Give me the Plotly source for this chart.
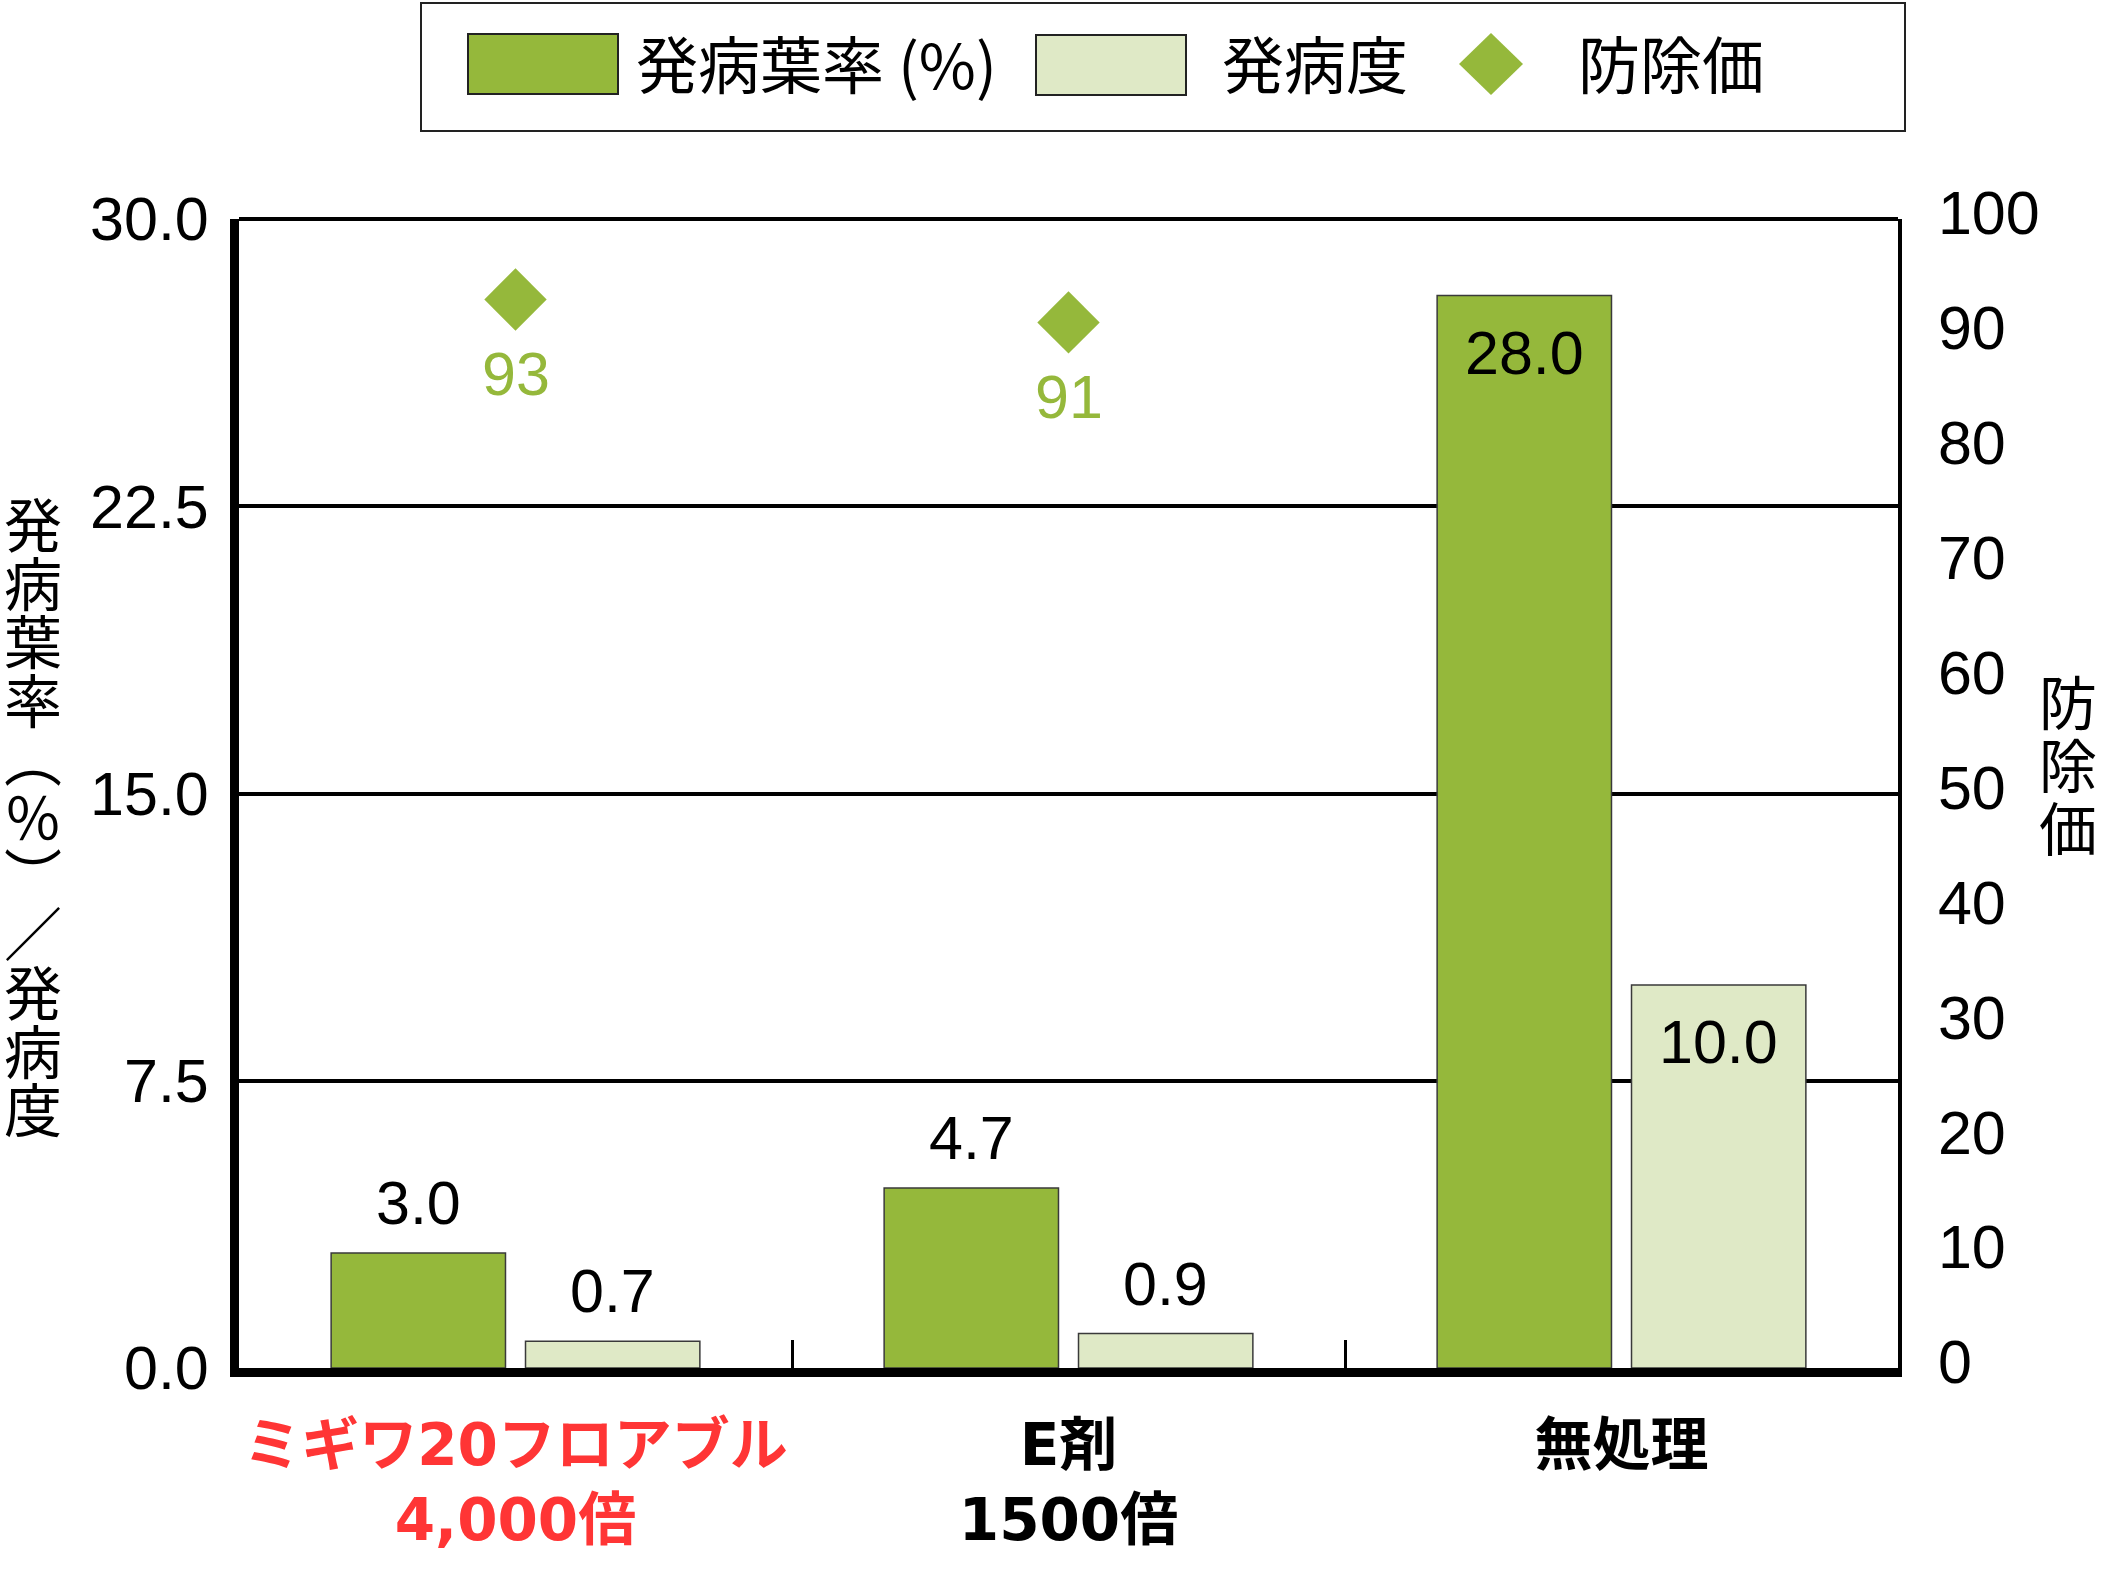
import plotly.graph_objects as go

# data
categories = ["ミギワ20フロアブル<br>4,000倍", "E剤<br>1500倍", "無処理"]
label_colors = ["#FF3535", "black", "black"]
incidence = [3.0, 4.7, 28.0]        # 発病葉率 (%)
severity = [0.7, 0.9, 10.0]         # 発病度
control_value = [93, 91, None]      # 防除価
left_ticks = [0.0, 7.5, 15.0, 22.5, 30.0]
right_ticks = list(range(0, 101, 10))

W, H = 2102, 1572
L, R, T, B = 239, 1898, 219, 1368   # plot area in pixels

GREEN = "#95B83B"
LIGHT = "#DFE9C6"
NUM_FONT = "Liberation Sans, Arial, Noto Sans CJK JP"
JP_FONT = "Noto Sans CJK JP"
CAT_FONT = "DejaVu Sans, Noto Sans CJK JP"


def px_x(x):
    # pixel -> paper coordinate
    return (x - L) / (R - L)


def px_y(y):
    return (B - y) / (B - T)


fig = go.Figure()
fig.add_trace(go.Bar(
    x=categories, y=incidence, name="発病葉率 (%)",
    marker=dict(color=GREEN, line=dict(color="#3a3a3a", width=1.5)),
))
fig.add_trace(go.Bar(
    x=categories, y=severity, name="発病度",
    marker=dict(color=LIGHT, line=dict(color="#3a3a3a", width=1.5)),
))
fig.add_trace(go.Scatter(
    x=categories, y=control_value, yaxis="y2", name="防除価",
    mode="markers",
    marker=dict(symbol="diamond", size=48, color=GREEN),
    cliponaxis=False,
))

annotations = []
# bar value labels
for vals, shift in [(incidence, -97), (severity, 97)]:
    for cat, v in zip(categories, vals):
        inside = v > 5
        annotations.append(dict(
            x=cat, y=v, xref="x", yref="y", text=f"{v:.1f}",
            showarrow=False, xshift=shift,
            yanchor="top" if inside else "bottom",
            yshift=-21 if inside else 14,
            font=dict(family=NUM_FONT, size=61, color="black"),
        ))
# control value labels under the diamonds
for cat, v in zip(categories, control_value):
    if v is None:
        continue
    annotations.append(dict(
        x=cat, y=v, xref="x", yref="y2", text=str(v),
        showarrow=False, yanchor="top", yshift=-39,
        font=dict(family=NUM_FONT, size=61, color=GREEN),
    ))

# vertical axis titles, one glyph per line
left_title = ["発", "病", "葉", "率", "︵", "％", "︶", "／", "発", "病", "度"]
for i, ch in enumerate(left_title):
    annotations.append(dict(
        x=px_x(33), y=px_y(522 + i * 58.5), xref="paper", yref="paper",
        text=ch, showarrow=False, xanchor="center", yanchor="middle",
        font=dict(family=JP_FONT, size=58, color="black"),
    ))
right_title = ["防", "除", "価"]
for i, ch in enumerate(right_title):
    annotations.append(dict(
        x=px_x(2068), y=px_y(700 + i * 63), xref="paper", yref="paper",
        text=ch, showarrow=False, xanchor="center", yanchor="middle",
        font=dict(family=JP_FONT, size=58, color="black"),
    ))

# custom legend (large swatches like the original)
legend_items = [("発病葉率 (%)", 634), ("発病度", 1220), ("防除価", 1576)]
for text, x0 in legend_items:
    annotations.append(dict(
        x=px_x(x0), y=px_y(62), xref="paper", yref="paper", text=text,
        showarrow=False, xanchor="left", yanchor="middle",
        font=dict(family=JP_FONT, size=62, color="black"),
    ))

shapes = [
    dict(type="rect", xref="paper", yref="paper",
         x0=px_x(421), x1=px_x(1905), y0=px_y(131), y1=px_y(3),
         line=dict(color="#222", width=2), fillcolor="white", layer="below"),
    dict(type="rect", xref="paper", yref="paper",
         x0=px_x(468), x1=px_x(618), y0=px_y(94), y1=px_y(34),
         line=dict(color="#222", width=2), fillcolor=GREEN),
    dict(type="rect", xref="paper", yref="paper",
         x0=px_x(1036), x1=px_x(1186), y0=px_y(95), y1=px_y(35),
         line=dict(color="#222", width=2), fillcolor=LIGHT),
    dict(type="path", xref="paper", yref="paper",
         path=(f"M {px_x(1491)} {px_y(33)} L {px_x(1523)} {px_y(64)} "
               f"L {px_x(1491)} {px_y(95)} L {px_x(1459)} {px_y(64)} Z"),
         line=dict(width=0), fillcolor=GREEN),
    # top border of the plot area
    dict(type="line", xref="paper", yref="paper", x0=0, x1=1, y0=1, y1=1,
         line=dict(color="black", width=4)),
]

fig.update_layout(
    width=W, height=H,
    margin=dict(l=L, r=W - R, t=T, b=H - B, pad=0),
    plot_bgcolor="white", paper_bgcolor="white",
    barmode="group", bargap=0.297, bargroupgap=0.103,
    showlegend=False,
    annotations=annotations, shapes=shapes,
)
fig.update_xaxes(
    type="category", automargin=False,
    tickvals=categories,
    ticktext=[f"<span style='color:{c}'><b>{t}</b></span>"
              for t, c in zip(categories, label_colors)],
    tickfont=dict(family=CAT_FONT, size=58, color="black"),
    tickangle=0,
    showline=True, linecolor="black", linewidth=9,
    ticks="inside", tickson="boundaries", ticklen=28, tickwidth=3, tickcolor="black",
    ticklabelstandoff=18,
    showgrid=False,
)
fig.update_yaxes(
    range=[0, 30], tickvals=left_ticks, tickformat=".1f", automargin=False,
    tickfont=dict(family=NUM_FONT, size=61, color="black"),
    showline=True, linecolor="black", linewidth=9,
    showgrid=True, gridcolor="black", gridwidth=3.5,
    zeroline=False, ticks="", ticklabelstandoff=9,
)
fig.update_layout(yaxis2=dict(
    overlaying="y", side="right", range=[0, 100], tickvals=right_ticks,
    automargin=False,
    tickfont=dict(family=NUM_FONT, size=61, color="black"),
    showline=True, linecolor="black", linewidth=3.5,
    showgrid=False, zeroline=False, ticks="", ticklabelstandoff=24,
    ticklabelshift=-6,
))

fig.write_html(
    "out.html",
    config={"displayModeBar": False},
    post_script="document.body.style.margin='0';document.body.style.overflow='hidden';",
)
